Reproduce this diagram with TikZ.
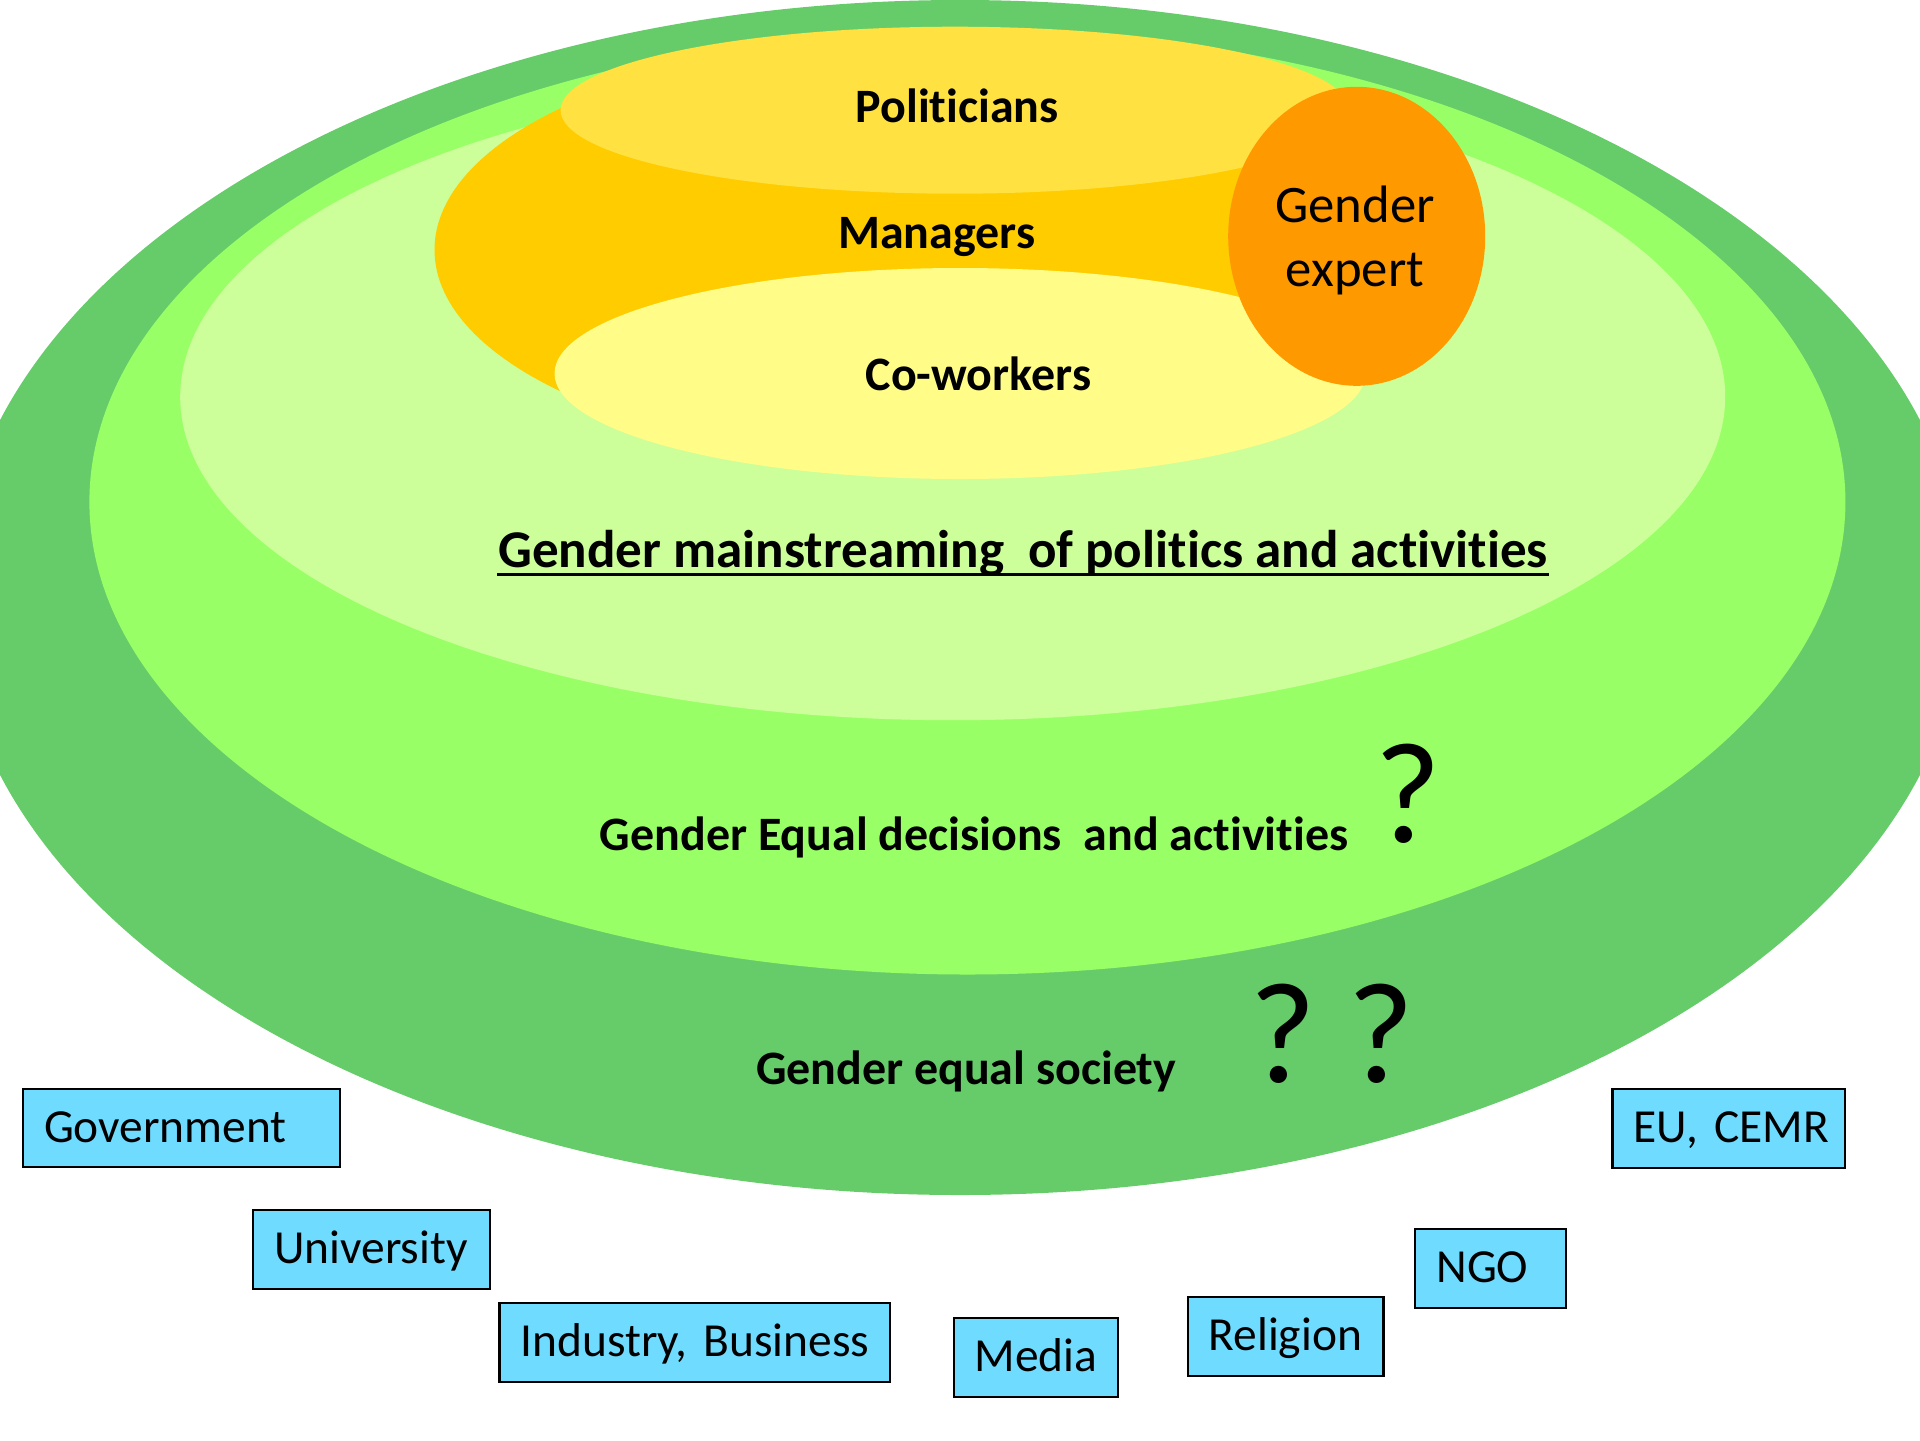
\documentclass[tikz,border=0pt]{standalone}
\usepackage{fontspec}
\setmainfont{Carlito}[Ligatures=NoCommon]
\usepackage{tikz}
\usetikzlibrary{shapes.geometric}
\frenchspacing

\definecolor{society}{HTML}{66CC6A}
\definecolor{decision}{HTML}{99FF66}
\definecolor{mainstream}{HTML}{CCFF99}
\definecolor{managers}{HTML}{FFCC00}
\definecolor{politicians}{HTML}{FFE141}
\definecolor{coworkers}{HTML}{FFFC88}
\definecolor{expert}{HTML}{FF9900}
\definecolor{actorblue}{HTML}{6FDCFF}

\tikzset{
  ring/.style={ellipse, draw=none, inner sep=0pt},
  lbl/.style={inner sep=0pt, anchor=base, font=\fontsize{13.65}{16}\selectfont\bfseries},
  quest/.style={inner sep=0pt, anchor=base, font=\fontsize{41}{48}\selectfont},
  actor/.style={draw, line width=0.6pt, fill=actorblue, anchor=north west, align=left,
    inner xsep=0.21cm, inner ysep=0pt, minimum height=0.785cm,
    text height=0.85em, text depth=0.03em, font=\fontsize{13.5}{16}\selectfont,
    execute at begin node={\hyphenpenalty=10000\relax}}
}

\begin{document}
\begin{tikzpicture}
			\useasboundingbox (0,0) rectangle (19.2,-14.4);
			\clip (0,0) rectangle (19.2,-14.4);

			% Define the rings
			\node[ring, fill=society, minimum width=20.1cm, minimum height=11.95cm] (soc) at (9.6,-5.975) {};
			\node[ring, fill=decision, minimum width=17.56cm, minimum height=9.45cm] (dec) at (9.674,-5.02) {};
			\node[ring, fill=mainstream, minimum width=15.45cm, minimum height=6.47cm] (mst) at (9.527,-3.967) {};
			\node[ring, fill=managers, minimum width=9.43cm, minimum height=4.16cm] (man) at (9.06,-2.498) {};
			\node[ring, fill=politicians, minimum width=7.89cm, minimum height=1.67cm] (pol) at (9.551,-1.102) {};
			\node[ring, fill=coworkers, minimum width=8.11cm, minimum height=2.11cm] (cow) at (9.6,-3.735) {};
			\node[ring, fill=expert, minimum width=2.57cm, minimum height=2.99cm] (exp) at (13.567,-2.363) {};

			% Labels
			\node[lbl] (poltxt) at (9.571,-1.224) {Politicians};
			\node[lbl] (mantxt) at (9.367,-2.486) {Managers};
			\node[lbl] (cowtxt) at (9.784,-3.90) {Co-workers};
			\node[inner sep=0pt, align=center, font=\fontsize{15}{18}\selectfont] (exptxt) at (13.55,-2.405) {Gender\\expert};
			\node[lbl, font=\fontsize{15.1}{18}\selectfont\bfseries] (msttxt) at (10.23,-5.677) {Gender mainstreaming~ of politics and activities};
			\draw[line width=0.9pt] ([yshift=-1.9pt]msttxt.base west) -- ([yshift=-1.9pt]msttxt.base east);
			\node[lbl] (dectxt) at (9.74,-8.50) {Gender Equal decisions~ and activities};
			\node[lbl] (soctxt) at (9.661,-10.84) {Gender equal society};
			\node[quest] (q1) at (14.075,-8.427) {?};
			\node[quest] (q2) at (12.825,-10.827) {?};
			\node[quest] (q3) at (13.81,-10.827) {?};

			% Actors around
			\node[actor, text width=2.752cm] (gov) at (0.22,-10.877) {Government};
			\node[actor, text width=1.943cm] (uni) at (2.522,-12.09) {University};
			\node[actor, text width=3.486cm] (ind) at (4.984,-13.02) {\mbox{Industry, Business}};
			\node[actor, text width=1.221cm] (med) at (9.527,-13.17) {Media};
			\node[actor, text width=1.539cm] (rel) at (11.865,-12.96) {Religion};
			\node[actor, text width=1.086cm] (ngo) at (14.143,-12.28) {NGO};
			\node[actor, text width=1.907cm] (eu) at (16.114,-10.88) {\mbox{EU, CEMR}};
		\end{tikzpicture}
\end{document}
